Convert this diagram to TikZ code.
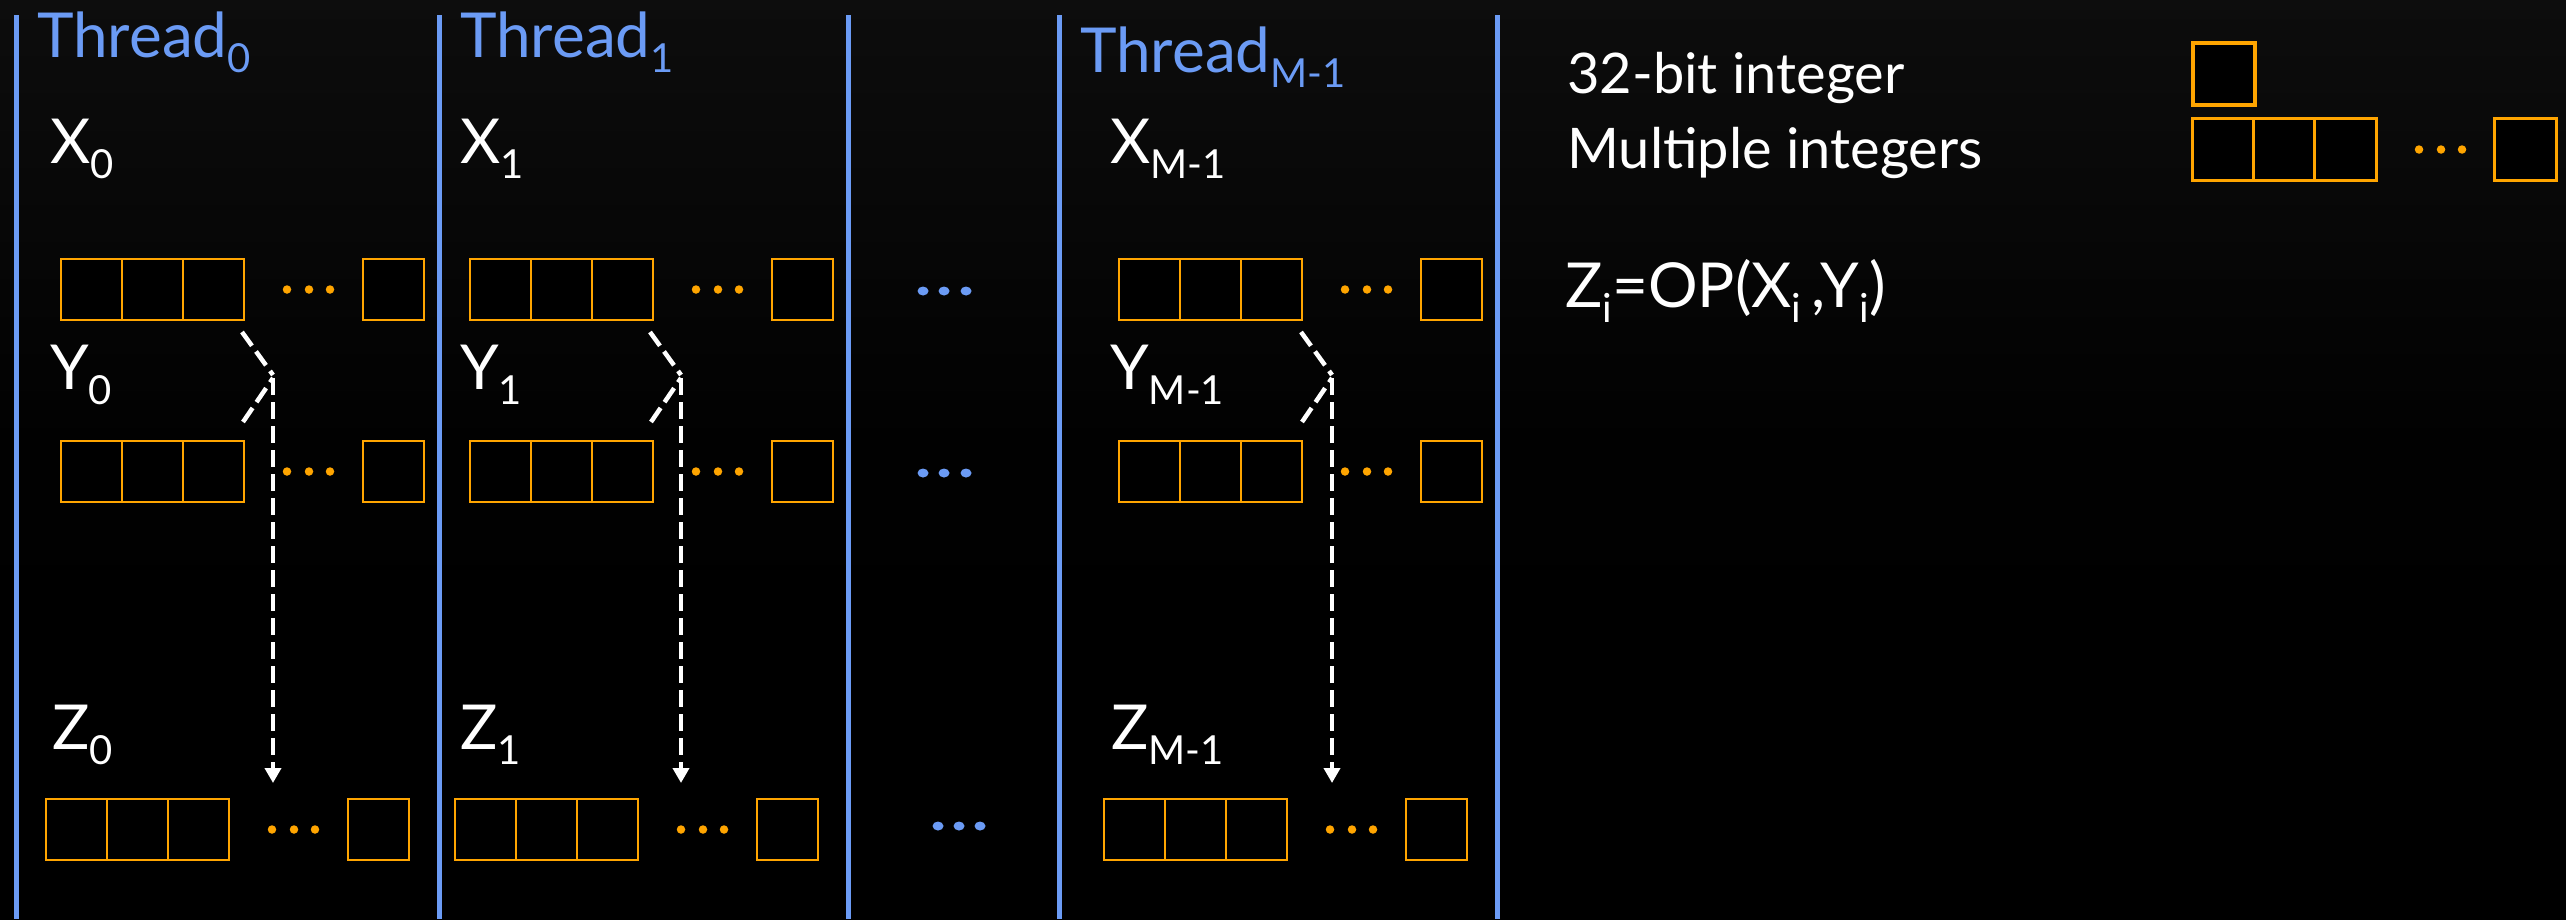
\documentclass[tikz,border=0pt]{standalone}
\usepackage{fontspec}
\setmainfont{Lato}
\usetikzlibrary{arrows.meta,shapes.geometric}
\definecolor{bgtop}{RGB}{13,13,13}
\definecolor{tblue}{RGB}{107,155,245}
\definecolor{borange}{RGB}{255,165,0}
\newcommand\lsub[1]{\raisebox{-15pt}{\fontsize{40}{44}\selectfont #1}}
\newcommand\arr[4][]{% name, left, top
  \foreach \k in {1,2,3}{\node[cell,#1] (#2-\k) at ({#3+30.5+61*(\k-1)},{#4+30.5}) {};}
  \node[odot] (#2-d1) at ({#3+226},{#4+30.5}) {};
  \node[odot] (#2-d2) at ({#3+248},{#4+30.5}) {};
  \node[odot] (#2-d3) at ({#3+269},{#4+30.5}) {};
  \node[cell,#1] (#2-n) at ({#3+302+30.5},{#4+30.5}) {};
}
\begin{document}
\begin{tikzpicture}[x=1pt,y=-1pt,
  cell/.style={draw=borange, line width=2.5pt, minimum size=61pt, inner sep=0pt, fill=black},
  bigcell/.style={line width=3.5pt, minimum size=62pt},
  odot/.style={circle, fill=borange, minimum size=8.5pt, inner sep=0pt},
  bdot/.style={ellipse, fill=tblue, minimum width=11pt, minimum height=9pt, inner sep=0pt},
  lbl/.style={text=white, anchor=base west, inner sep=0pt, font=\fontsize{62}{70}\selectfont},
  thr/.style={lbl, text=tblue},
  leg/.style={lbl, font=\fontsize{56}{64}\selectfont},
  vline/.style={draw=tblue, line width=5pt},
  flow/.style={draw=white, line width=4.5pt, dash pattern=on 17pt off 7pt}
]
\shade[top color=bgtop, bottom color=black, middle color=black!95!bgtop] (0,0) rectangle (2566,919);
\useasboundingbox (0,0) rectangle (2566,919);

% separators
\foreach \n/\x in {1/16,2/439,3/848,4/1059,5/1497}{
  \coordinate (v\n t) at (\x,15);
  \coordinate (v\n b) at (\x,919);
  \draw[vline] (v\n t) -- (v\n b);
}

% thread titles
\node[thr] (th0) at (37,57) {Thread\lsub{0}};
\node[thr] (th1) at (460,57) {Thread\lsub{1}};
\node[thr] (thm) at (1080,72) {Thread\lsub{M-1}};

% labels
\node[lbl] (lx0) at (50,163) {X\lsub{0}};
\node[lbl] (ly0) at (50,389) {Y\lsub{0}};
\node[lbl] (lz0) at (52,749) {Z\lsub{0}};
\node[lbl] (lx1) at (460,163) {X\lsub{1}};
\node[lbl] (ly1) at (460,389) {Y\lsub{1}};
\node[lbl] (lz1) at (460,749) {Z\lsub{1}};
\node[lbl] (lxm) at (1110,163) {X\lsub{M-1}};
\node[lbl] (lym) at (1110,389) {Y\lsub{M-1}};
\node[lbl] (lzm) at (1111,749) {Z\lsub{M-1}};

% arrays
\arr{x0}{61}{259}
\arr{y0}{61}{441}
\arr{z0}{46}{799}
\arr{x1}{470}{259}
\arr{y1}{470}{441}
\arr{z1}{455}{799}
\arr{xm}{1119}{259}
\arr{ym}{1119}{441}
\arr{zm}{1104}{799}

% middle ellipsis
\node[bdot] (m1a) at (923,291) {};
\node[bdot] (m1b) at (944,291) {};
\node[bdot] (m1c) at (966,291) {};
\node[bdot] (m2a) at (923,473) {};
\node[bdot] (m2b) at (944,473) {};
\node[bdot] (m2c) at (966,473) {};
\node[bdot] (m3a) at (938,826) {};
\node[bdot] (m3b) at (959,826) {};
\node[bdot] (m3c) at (980,826) {};

% flows
\foreach \t/\dx in {0/0,1/408,m/1059}{
  \coordinate (f\t a) at ({242+\dx},332);
  \coordinate (f\t b) at ({273+\dx},375);
  \coordinate (f\t c) at ({243+\dx},422);
  \coordinate (f\t d) at ({273+\dx},378);
  \coordinate (f\t e) at ({273+\dx},783);
  \draw[flow] (f\t a) -- (f\t b);
  \draw[flow] (f\t c) -- (f\t d);
  \draw[flow,-{Triangle[width=16pt,length=15pt]}] (f\t d) -- (f\t e);
}

% legend
\node[leg] (lg1) at (1567,93) {32-bit integer};
\node[leg] (lg2) at (1567,168) {Multiple integers};
\node[cell,bigcell] (lgbox) at (2224,74) {};
\arr[bigcell]{lgr}{2193}{119}
\node[lbl] (eq) at (1565,307) {Z\lsub{i}=OP(X\lsub{i}\,,Y\lsub{i})};
\end{tikzpicture}
\end{document}
